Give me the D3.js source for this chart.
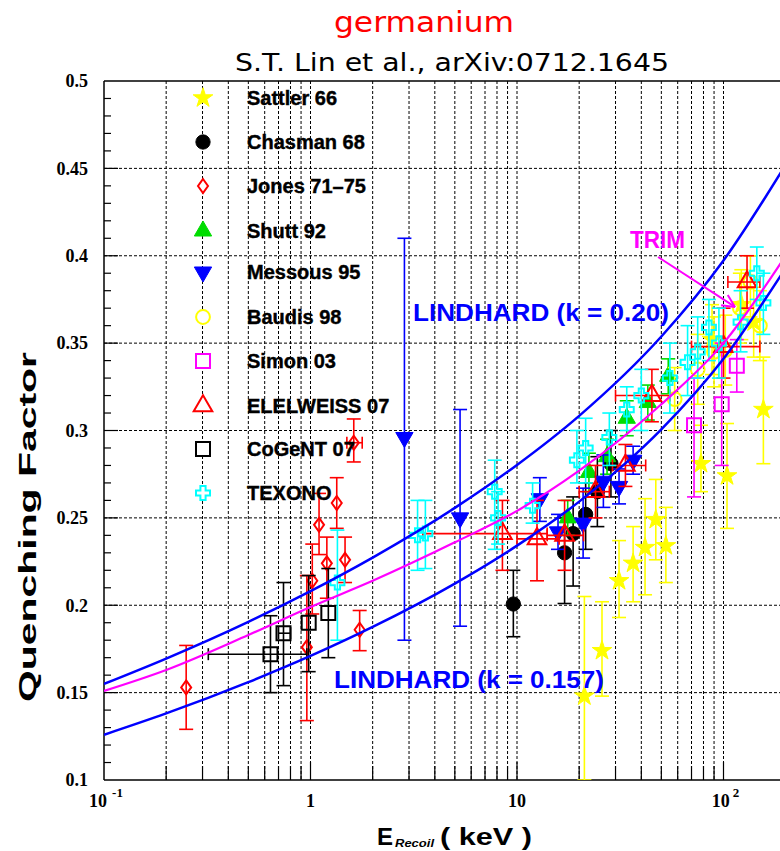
<!DOCTYPE html>
<html><head><meta charset="utf-8">
<script src="https://cdn.jsdelivr.net/npm/d3@7"></script>
<style>body{margin:0;background:#fff}svg{display:block}</style>
</head><body>
<svg id="chart" width="780" height="851"></svg>
<script>
// ---------- data (E in keV, quenching factor) ----------
const xTickValues = [0.1, 1, 10, 100];
const yTickValues = [0.1, 0.15, 0.2, 0.25, 0.3, 0.35, 0.4, 0.45, 0.5];
const yTickLabels = ["0.1", "0.15", "0.2", "0.25", "0.3", "0.35", "0.4", "0.45", "0.5"];

// [E, q, qLow, qHigh, ELow, EHigh]
const sattler = [
  [21.2, 0.148, 0.100, 0.205], [25.8, 0.174, 0.148, 0.202], [31.2, 0.214, 0.193, 0.237],
  [36.5, 0.224, 0.202, 0.245], [41.7, 0.233, 0.206, 0.261], [47, 0.249, 0.226, 0.272],
  [52.6, 0.234, 0.213, 0.256], [77.8, 0.281, 0.265, 0.303], [104, 0.274, 0.244, 0.304],
  [156, 0.312, 0.281, 0.342], [88, 0.352, 0.332, 0.372], [122, 0.372, 0.352, 0.392],
  [140, 0.362, 0.342, 0.382]
];
const chasman = [
  [9.6, 0.2007, 0.182, 0.220], [17, 0.230, 0.201, 0.250], [18.7, 0.241, 0.211, 0.262],
  [21.5, 0.252, 0.232, 0.270], [24.5, 0.265, 0.245, 0.285], [28.5, 0.281, 0.262, 0.300]
];
const jones = [
  [0.25, 0.153, 0.129, 0.177], [0.96, 0.176, 0.134, 0.217], [1.02, 0.214, 0.195, 0.235],
  [1.1, 0.246, 0.229, 0.264], [1.2, 0.224, 0.204, 0.239], [1.34, 0.2585, 0.244, 0.273],
  [1.47, 0.226, 0.213, 0.239], [1.62, 0.293, 0.282, 0.3066, 1.5, 1.78], [1.73, 0.186, 0.174, 0.197]
];
const shutt = [
  [17.6, 0.250, 0.240, 0.260], [22.3, 0.276, 0.265, 0.287], [27.3, 0.285, 0.275, 0.295],
  [34, 0.307, 0.297, 0.317], [43, 0.316, 0.306, 0.326], [54, 0.331, 0.321, 0.341]
];
const messous = [
  [2.85, 0.296, 0.180, 0.410], [5.3, 0.250, 0.188, 0.312], [12.9, 0.261, 0.248, 0.273],
  [15.8, 0.242, 0.232, 0.252], [20.9, 0.247, 0.227, 0.267], [26.2, 0.271, 0.256, 0.286],
  [31.2, 0.268, 0.258, 0.278], [36.5, 0.283, 0.275, 0.291]
];
const baudis = [
  [58, 0.318, 0.300, 0.336], [75, 0.335, 0.315, 0.355], [90, 0.345, 0.325, 0.365],
  [102, 0.346, 0.326, 0.366], [120, 0.370, 0.350, 0.390], [135, 0.385, 0.365, 0.400],
  [150, 0.360, 0.340, 0.380]
];
const simon = [
  [72, 0.303, 0.262, 0.330], [98, 0.315, 0.280, 0.350], [116, 0.337, 0.322, 0.352]
];
const edelweiss = [
  [8.5, 0.241, 0.220, 0.260, 3.5, 14], [12.5, 0.238, 0.214, 0.260, 10, 16],
  [17, 0.240, 0.220, 0.260, 14, 21], [24, 0.265, 0.250, 0.280, 20, 28],
  [33.5, 0.280, 0.268, 0.292, 29, 42], [45, 0.320, 0.305, 0.335, 30, 55],
  [100, 0.348, 0.330, 0.370, 70, 150], [130, 0.385, 0.370, 0.400, 105, 150]
];
const cogent = [
  [0.64, 0.172, 0.150, 0.194, 0.32, 0.96], [0.74, 0.184, 0.154, 0.213, 0.70, 0.80],
  [0.98, 0.190, 0.162, 0.217], [1.22, 0.1955, 0.170, 0.221]
];
const texono = [
  [1.35, 0.213, 0.180, 0.243], [3.3, 0.240, 0.220, 0.260], [3.6, 0.241, 0.221, 0.260],
  [7.8, 0.265, 0.232, 0.283], [8.1, 0.250, 0.235, 0.265], [11.9, 0.257, 0.247, 0.270],
  [19.5, 0.283, 0.270, 0.300], [21.5, 0.290, 0.270, 0.307], [28, 0.296, 0.280, 0.310],
  [34, 0.312, 0.300, 0.325], [40, 0.320, 0.300, 0.335], [55, 0.330, 0.310, 0.350],
  [67, 0.339, 0.320, 0.360], [75, 0.345, 0.330, 0.365], [85, 0.359, 0.340, 0.375],
  [95, 0.350, 0.330, 0.370], [121, 0.362, 0.345, 0.380], [145, 0.390, 0.375, 0.405],
  [156, 0.373, 0.355, 0.390]
];

// curves [E, q]
const lindhard157 = [[0.1,0.1259],[0.2,0.1381],[0.5,0.1560],[1,0.1710],[2,0.1876],[5,0.2124],[10,0.2341],[20,0.2593],[50,0.3006],[100,0.3410],[200,0.3930]];
const lindhard020 = [[0.1,0.1550],[0.2,0.1695],[0.5,0.1905],[1,0.2081],[2,0.2273],[5,0.2557],[10,0.2803],[20,0.3084],[50,0.3538],[100,0.3973],[200,0.4521]];
const trim = [[0.1,0.151],[0.2,0.163],[0.5,0.183],[1,0.199],[2,0.214],[5,0.236],[10,0.254],[20,0.277],[50,0.315],[100,0.350],[200,0.400]];

const legendNames = ["Sattler 66","Chasman 68","Jones 71\u201375","Shutt 92","Messous 95","Baudis 98","Simon 03","ELELWEISS 07","CoGeNT 07","TEXONO"];

// ---------- layout ----------
const L = 104, T = 81, B = 780;
const decade = 206.5;
const x = d3.scaleLog().domain([0.1, 200]).range([L, L + decade * Math.log10(2000)]);
const y = d3.scaleLinear().domain([0.1, 0.5]).range([B, T]);
const R = 780;

const svg = d3.select("#chart");
svg.append("defs").append("clipPath").attr("id","clip")
  .append("rect").attr("x", L).attr("y", T).attr("width", R - L).attr("height", B - T);

// grid
const grid = svg.append("g");
const xGrid = [];
[0.1, 1, 10, 100].forEach(d => { for (let k = 1; k <= 9; k++) { const v = d * k; if (v > 0.1 && v <= 200) xGrid.push(v); } });
grid.selectAll("line.vx").data(xGrid).join("line")
  .attr("x1", d => x(d)).attr("x2", d => x(d)).attr("y1", T).attr("y2", B)
  .attr("stroke", "#000").attr("stroke-width", 1).attr("stroke-dasharray", "3,2");
grid.selectAll("line.hy").data(yTickValues.slice(1, -1)).join("line")
  .attr("x1", L).attr("x2", R).attr("y1", d => y(d)).attr("y2", d => y(d))
  .attr("stroke", "#000").attr("stroke-width", 1).attr("stroke-dasharray", "3,2");

// axes
const yAxis = d3.axisLeft(y).tickValues(yTickValues).tickFormat((d, i) => yTickLabels[i]).tickSize(0).tickPadding(16);
const gy = svg.append("g").attr("transform", `translate(${L},0)`).call(yAxis);
gy.select(".domain").remove();
gy.selectAll("text").attr("font-family", "Liberation Serif").attr("font-weight", "bold").attr("font-size", 18).attr("fill","#000");
// y ticks (minor every 0.01, major every 0.05) drawn inward
const yMinor = d3.range(11, 50).map(i => i / 100);
svg.append("g").selectAll("line").data(yMinor).join("line")
  .attr("x1", L).attr("x2", d => L + ((Math.round(d * 100) % 5 === 0) ? 14 : 7))
  .attr("y1", d => y(d)).attr("y2", d => y(d)).attr("stroke", "#000").attr("stroke-width", 1.2);

const xAxis = d3.axisBottom(x).tickValues(xGrid).tickSize(0).tickFormat("");
const gx = svg.append("g").attr("transform", `translate(0,${B})`).call(xAxis);
gx.select(".domain").remove();
svg.append("g").selectAll("line").data(xGrid).join("line")
  .attr("x1", d => x(d)).attr("x2", d => x(d)).attr("y1", B).attr("y2", d => B - (xTickValues.includes(d) ? 18 : 14))
  .attr("stroke", "#000").attr("stroke-width", 1.2);

// x tick labels
const xl = svg.append("g").attr("font-family", "Liberation Serif").attr("font-weight", "bold").attr("fill", "#000");
xTickValues.forEach(v => {
  const e = Math.round(Math.log10(v));
  const t = xl.append("text").attr("y", 807).attr("font-size", 18).attr("text-anchor", "middle");
  if (e === 0) { t.attr("x", x(v)).text("1"); }
  else if (e === 1) { t.attr("x", x(v)).text("10"); }
  else {
    t.attr("x", x(v) + 2);
    t.append("tspan").text("10");
    t.append("tspan").attr("dy", -10).attr("dx", e < 0 ? 5 : 3).attr("font-size", 13).text(e < 0 ? "-1" : String(e));
  }
});

// frame
svg.append("line").attr("x1", L).attr("x2", L).attr("y1", T).attr("y2", B).attr("stroke", "#000").attr("stroke-width", 1.5);
svg.append("line").attr("x1", L).attr("x2", R).attr("y1", B).attr("y2", B).attr("stroke", "#000").attr("stroke-width", 1.5);
svg.append("line").attr("x1", L).attr("x2", R).attr("y1", T).attr("y2", T).attr("stroke", "#000").attr("stroke-width", 1.5);

// ---------- markers ----------
const sym = (type, size) => d3.symbol().type(type).size(size)();
const diamondPath = "M0,-7L5,0L0,7L-5,0Z";
const squarePath = "M-7,-7L7,-7L7,7L-7,7Z";
const a = 2.6, s = 7;
const crossPath = `M${-a},${-s}L${a},${-s}L${a},${-a}L${s},${-a}L${s},${a}L${a},${a}L${a},${s}L${-a},${s}L${-a},${a}L${-s},${a}L${-s},${-a}L${-a},${-a}Z`;
const series = [
  {data: sattler, color: "#ffff00", path: sym(d3.symbolStar, 120), fill: true},
  {data: chasman, color: "#000000", path: sym(d3.symbolCircle, 160), fill: true},
  {data: jones, color: "#ff0000", path: diamondPath, fill: false},
  {data: shutt, color: "#00dd00", path: sym(d3.symbolTriangle, 130), fill: true},
  {data: messous, color: "#0000ff", path: sym(d3.symbolTriangle, 130), fill: true, rot: 180},
  {data: baudis, color: "#ffff00", path: sym(d3.symbolCircle, 150), fill: false},
  {data: simon, color: "#ff00ff", path: squarePath, fill: false},
  {data: edelweiss, color: "#ff0000", path: sym(d3.symbolTriangle, 150), fill: false},
  {data: cogent, color: "#000000", path: squarePath, fill: false},
  {data: texono, color: "#00ffff", path: crossPath, fill: false}
];

const plot = svg.append("g").attr("clip-path", "url(#clip)");
series.forEach(sr => {
  const g = plot.append("g").attr("stroke", sr.color).attr("stroke-width", 1.6).attr("fill", "none");
  sr.data.forEach(d => {
    const cx = x(d[0]), cy = y(d[1]);
    g.append("line").attr("x1", cx).attr("x2", cx).attr("y1", y(d[2])).attr("y2", y(d[3]));
    [d[2], d[3]].forEach(v => g.append("line").attr("x1", cx - 7).attr("x2", cx + 7).attr("y1", y(v)).attr("y2", y(v)));
    if (d.length > 4) {
      g.append("line").attr("x1", x(d[4])).attr("x2", x(d[5])).attr("y1", cy).attr("y2", cy);
      [d[4], d[5]].forEach(v => g.append("line").attr("x1", x(v)).attr("x2", x(v)).attr("y1", cy - 6).attr("y2", cy + 6));
    }
  });
  const m = plot.append("g");
  sr.data.forEach(d => {
    m.append("path").attr("d", sr.path)
      .attr("transform", `translate(${x(d[0])},${y(d[1])})` + (sr.rot ? ` rotate(${sr.rot})` : ""))
      .attr("fill", sr.fill ? sr.color : "#fff").attr("fill-opacity", sr.fill ? 1 : 0)
      .attr("stroke", sr.color).attr("stroke-width", sr.fill ? 1 : 2);
  });
});

// ---------- curves ----------
const line = d3.line().x(d => x(d[0])).y(d => y(d[1])).curve(d3.curveMonotoneX);
plot.append("path").datum(lindhard020).attr("d", line).attr("fill", "none").attr("stroke", "#0000ff").attr("stroke-width", 2.5);
plot.append("path").datum(lindhard157).attr("d", line).attr("fill", "none").attr("stroke", "#0000ff").attr("stroke-width", 2.5);
plot.append("path").datum(trim).attr("d", line).attr("fill", "none").attr("stroke", "#ff00ff").attr("stroke-width", 2.2);

// ---------- annotations ----------
const ann = svg.append("g").attr("font-family", "Liberation Sans").attr("font-weight", "bold");
ann.append("text").attr("x", 413).attr("y", 321).attr("font-size", 23).attr("fill", "#0000ff")
  .attr("textLength", 256).attr("lengthAdjust", "spacingAndGlyphs").text("LINDHARD (k = 0.20)");
ann.append("text").attr("x", 334).attr("y", 688).attr("font-size", 23).attr("fill", "#0000ff")
  .attr("textLength", 270).attr("lengthAdjust", "spacingAndGlyphs").text("LINDHARD (k = 0.157)");
ann.append("text").attr("x", 630).attr("y", 248).attr("font-size", 23).attr("fill", "#ff00ff")
  .attr("textLength", 55).attr("lengthAdjust", "spacingAndGlyphs").text("TRIM");
// arrow (data coordinates)
const arrowFrom = [48.2, 0.3993], arrowTo = [113.7, 0.3707];
const ax1 = x(arrowFrom[0]), ay1 = y(arrowFrom[1]), ax2 = x(arrowTo[0]), ay2 = y(arrowTo[1]);
const ang = Math.atan2(ay2 - ay1, ax2 - ax1);
svg.append("line").attr("x1", ax1).attr("y1", ay1).attr("x2", ax2).attr("y2", ay2).attr("stroke", "#ff00ff").attr("stroke-width", 2);
[-0.45, 0.45].forEach(da => {
  svg.append("line").attr("x1", ax2).attr("y1", ay2)
    .attr("x2", ax2 - 14 * Math.cos(ang + da)).attr("y2", ay2 - 14 * Math.sin(ang + da))
    .attr("stroke", "#ff00ff").attr("stroke-width", 2);
});

// ---------- legend ----------
const lg = svg.append("g");
const legendY = [98, 142, 186, 231, 272, 317, 361, 406, 449, 493];
series.forEach((sr, i) => {
  lg.append("path").attr("d", sr.path)
    .attr("transform", `translate(203,${legendY[i]})` + (sr.rot ? " rotate(180)" : ""))
    .attr("fill", sr.fill ? sr.color : "#fff").attr("stroke", sr.color).attr("stroke-width", sr.fill ? 1 : 2);
  lg.append("text").attr("x", 247).attr("y", legendY[i] + 7)
    .attr("font-family", "Liberation Sans").attr("font-weight", "bold").attr("font-size", 20)
    .attr("fill", "#000").attr("stroke", "#000").attr("stroke-width", 0.4).text(legendNames[i]);
});

// ---------- titles ----------
svg.append("text").attr("x", 424).attr("y", 32).attr("text-anchor", "middle")
  .attr("font-family", "DejaVu Sans").attr("font-size", 28).attr("fill", "#ff0000")
  .attr("textLength", 180).attr("lengthAdjust", "spacingAndGlyphs").text("germanium");
svg.append("text").attr("x", 452).attr("y", 71).attr("text-anchor", "middle")
  .attr("font-family", "DejaVu Sans").attr("font-size", 24).attr("fill", "#000")
  .attr("textLength", 434).attr("lengthAdjust", "spacingAndGlyphs").text("S.T. Lin et al., arXiv:0712.1645");

svg.append("text").attr("transform", "translate(36,527) rotate(-90)").attr("text-anchor", "middle")
  .attr("font-family", "Liberation Sans").attr("font-weight", "bold").attr("font-size", 24).attr("fill", "#000")
  .attr("textLength", 350).attr("lengthAdjust", "spacingAndGlyphs").text("Quenching Factor");

const xt = svg.append("g").attr("font-family", "Liberation Sans").attr("font-weight", "bold").attr("fill", "#000");
xt.append("text").attr("x", 377).attr("y", 845).attr("font-size", 24).text("E");
xt.append("text").attr("x", 395).attr("y", 847).attr("font-size", 11).attr("font-style", "italic")
  .attr("textLength", 39).attr("lengthAdjust", "spacingAndGlyphs").text("Recoil");
xt.append("text").attr("x", 440).attr("y", 845).attr("font-size", 24)
  .attr("textLength", 92).attr("lengthAdjust", "spacingAndGlyphs").text("( keV )");
</script>
</body></html>
